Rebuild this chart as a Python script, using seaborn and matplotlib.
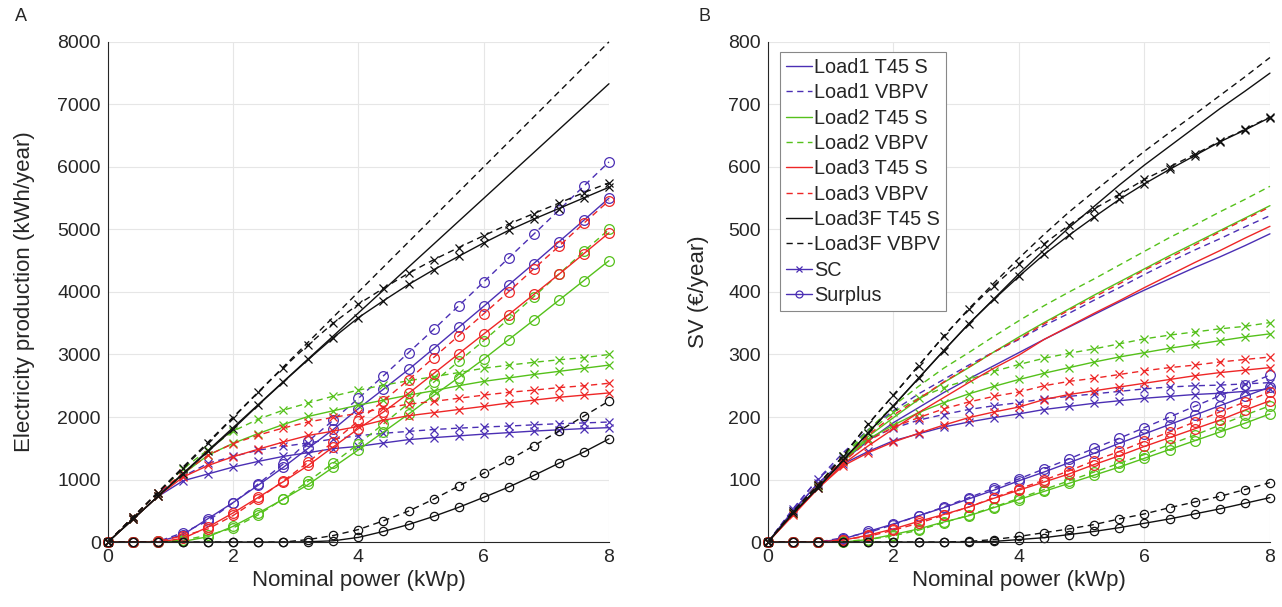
import numpy as np
import pandas as pd
import seaborn as sns
import matplotlib.pyplot as plt
from matplotlib.lines import Line2D

#%%
# x axis: nominal power (kWp)
nominal_power = [0.0, 0.4, 0.8, 1.2, 1.6, 2.0, 2.4, 2.8, 3.2, 3.6, 4.0,
                 4.4, 4.8, 5.2, 5.6, 6.0, 6.4, 6.8, 7.2, 7.6, 8.0]

#%%
# panel A - electricity production (kWh/year)
prod_t45 = [0, 366, 733, 1099, 1466, 1832, 2199, 2565, 2932, 3298, 3665,
            4031, 4398, 4764, 5131, 5497, 5864, 6230, 6597, 6963, 7330]
prod_vbpv = [0, 400, 800, 1200, 1600, 2000, 2400, 2800, 3200, 3600, 4000,
             4400, 4800, 5200, 5600, 6000, 6400, 6800, 7200, 7600, 8000]

sc_l1_t45 = [0, 366, 730, 980, 1090, 1200, 1290, 1370, 1430, 1495, 1530,
             1585, 1638, 1670, 1698, 1726, 1750, 1775, 1795, 1815, 1830]
sc_l1_vbpv = [0, 400, 790, 1050, 1260, 1370, 1470, 1530, 1585, 1650, 1700,
              1740, 1770, 1800, 1822, 1840, 1855, 1875, 1893, 1905, 1920]
sc_l2_t45 = [0, 366, 733, 1090, 1390, 1580, 1735, 1880, 2010, 2100, 2190,
             2270, 2350, 2420, 2500, 2570, 2625, 2680, 2730, 2780, 2830]
sc_l2_vbpv = [0, 400, 790, 1170, 1480, 1775, 1965, 2110, 2225, 2335, 2430,
              2510, 2580, 2645, 2710, 2780, 2830, 2875, 2915, 2950, 3000]
sc_l3_t45 = [0, 366, 733, 1040, 1225, 1365, 1485, 1600, 1705, 1775, 1850,
             1950, 2020, 2070, 2120, 2170, 2225, 2270, 2315, 2350, 2385]
sc_l3_vbpv = [0, 400, 790, 1100, 1390, 1575, 1710, 1825, 1920, 1995, 2060,
              2140, 2205, 2250, 2300, 2350, 2395, 2430, 2470, 2500, 2540]
sc_l3f_t45 = [0, 366, 733, 1090, 1450, 1810, 2190, 2560, 2920, 3270, 3590,
              3860, 4120, 4355, 4570, 4785, 4985, 5165, 5335, 5505, 5675]
sc_l3f_vbpv = [0, 400, 790, 1180, 1580, 1990, 2395, 2790, 3155, 3505, 3805,
               4060, 4300, 4515, 4710, 4900, 5085, 5255, 5420, 5590, 5745]

sur_l1_t45 = [0, 0, 3, 119, 376, 632, 909, 1195, 1502, 1803, 2135,
              2446, 2760, 3094, 3433, 3771, 4114, 4455, 4802, 5148, 5500]
sur_l1_vbpv = [0, 0, 10, 150, 340, 630, 930, 1250, 1615, 1950, 2300,
               2660, 3030, 3400, 3778, 4160, 4545, 4925, 5307, 5695, 6080]
sur_l2_t45 = [0, 0, 0, 9, 86, 252, 464, 685, 922, 1198, 1475,
              1761, 2048, 2344, 2631, 2927, 3239, 3550, 3867, 4183, 4500]
sur_l2_vbpv = [0, 0, 10, 30, 110, 225, 435, 690, 975, 1265, 1570,
               1890, 2220, 2555, 2890, 3220, 3570, 3925, 4285, 4650, 5000]
sur_l3_t45 = [0, 0, 0, 59, 241, 467, 714, 965, 1227, 1523, 1815,
              2081, 2378, 2694, 3011, 3327, 3639, 3960, 4282, 4613, 4945]
sur_l3_vbpv = [0, 0, 10, 100, 210, 425, 690, 975, 1280, 1605, 1940,
               2260, 2595, 2950, 3300, 3650, 4005, 4370, 4730, 5100, 5460]
sur_l3f_t45 = [0, 0, 0, 0, 0, 0, 0, 0, 5, 20, 75,
               170, 280, 410, 555, 715, 880, 1065, 1260, 1440, 1650]
sur_l3f_vbpv = [0, 0, 0, 0, 0, 0, 0, 0, 40, 105, 200,
                340, 495, 685, 895, 1100, 1310, 1540, 1775, 2015, 2255]

#%%
# panel B - saving value SV (EUR/year)
sv_l1_t45 = [0, 50, 94, 130, 162, 191, 215, 239, 261, 282, 303,
             324, 344, 364, 384, 403, 421, 439, 456, 474, 493]
sv_l1_vbpv = [0, 53, 101, 143, 180, 210, 237, 260, 283, 304, 324,
              346, 366, 387, 407, 428, 448, 467, 485, 504, 522]
sv_l2_t45 = [0, 45, 88, 130, 169, 199, 228, 255, 279, 304, 328,
             351, 373, 395, 416, 437, 458, 478, 498, 518, 538]
sv_l2_vbpv = [0, 47, 92, 138, 179, 218, 249, 278, 303, 329, 354,
              378, 400, 421, 443, 465, 487, 507, 528, 548, 569]
sv_l3_t45 = [0, 43, 86, 125, 154, 181, 207, 231, 255, 278, 299,
             324, 345, 366, 386, 407, 427, 447, 466, 486, 505]
sv_l3_vbpv = [0, 47, 92, 132, 171, 203, 229, 256, 280, 304, 325,
              349, 371, 392, 413, 435, 455, 475, 496, 516, 536]
sv_l3f_t45 = [0, 46, 87, 131, 175, 218, 262, 306, 349, 389, 429,
              467, 503, 537, 571, 603, 633, 663, 693, 721, 750]
sv_l3f_vbpv = [0, 49, 91, 138, 189, 235, 282, 329, 373, 414, 454,
               492, 528, 561, 593, 625, 655, 684, 714, 744, 775]

svsc_l1_t45 = [0, 50, 94, 125, 145, 162, 173, 184, 192, 199, 205,
               212, 217, 222, 226, 230, 233, 236, 238, 241, 245]
svsc_l1_vbpv = [0, 53, 101, 136, 165, 182, 195, 204, 212, 218, 223,
                229, 233, 237, 241, 245, 248, 250, 251, 253, 255]
svsc_l2_t45 = [0, 45, 88, 130, 165, 187, 207, 223, 237, 249, 260,
               270, 279, 288, 296, 303, 310, 316, 322, 328, 333]
svsc_l2_vbpv = [0, 47, 92, 137, 175, 208, 230, 247, 260, 273, 284,
                294, 302, 309, 317, 325, 331, 336, 341, 345, 351]
svsc_l3_t45 = [0, 43, 86, 122, 143, 160, 174, 187, 199, 208, 216,
               228, 236, 242, 248, 254, 260, 266, 271, 275, 279]
svsc_l3_vbpv = [0, 47, 92, 128, 162, 184, 199, 213, 224, 233, 240,
                250, 257, 262, 268, 274, 279, 283, 288, 292, 296]
svsc_l3f_t45 = [0, 46, 87, 131, 175, 218, 262, 306, 349, 388, 425,
                460, 491, 520, 548, 573, 596, 618, 640, 659, 679]
svsc_l3f_vbpv = [0, 49, 91, 138, 189, 235, 282, 329, 372, 410, 445,
                 477, 507, 533, 556, 580, 600, 620, 641, 660, 680]

svsur_l1_t45 = [0, 0, 0, 5, 17, 29, 42, 55, 69, 83, 98,
                112, 127, 142, 158, 173, 188, 203, 218, 233, 248]
svsur_l1_vbpv = [0, 0, 0, 7, 15, 28, 42, 56, 71, 86, 101,
                 117, 133, 150, 166, 183, 200, 217, 234, 251, 267]
svsur_l2_t45 = [0, 0, 0, 0, 4, 12, 21, 32, 42, 55, 68,
                81, 94, 107, 120, 134, 148, 162, 176, 190, 205]
svsur_l2_vbpv = [0, 0, 0, 1, 4, 10, 19, 31, 43, 56, 70,
                 84, 98, 112, 126, 140, 156, 171, 187, 203, 218]
svsur_l3_t45 = [0, 0, 0, 3, 11, 21, 33, 44, 56, 70, 83,
                96, 109, 124, 138, 153, 167, 181, 195, 211, 226]
svsur_l3_vbpv = [0, 0, 0, 4, 9, 19, 30, 43, 56, 71, 85,
                 99, 114, 130, 145, 161, 176, 192, 208, 224, 240]
svsur_l3f_t45 = [0, 0, 0, 0, 0, 0, 0, 0, 0, 1, 4,
                 7, 12, 17, 23, 30, 37, 45, 53, 62, 71]
svsur_l3f_vbpv = [0, 0, 0, 0, 0, 0, 0, 0, 1, 4, 9,
                  15, 21, 28, 37, 45, 55, 64, 73, 84, 95]

loads = ['Load1', 'Load2', 'Load3', 'Load3F']
configs = ['T45 S', 'VBPV']

#%%
# group the arrays per (load, config); production in A is the same for every
# load, so only the Load3F (black) copy is drawn there
panel_a = {
    ('Load1', 'T45 S'): (None, sc_l1_t45, sur_l1_t45),
    ('Load1', 'VBPV'): (None, sc_l1_vbpv, sur_l1_vbpv),
    ('Load2', 'T45 S'): (None, sc_l2_t45, sur_l2_t45),
    ('Load2', 'VBPV'): (None, sc_l2_vbpv, sur_l2_vbpv),
    ('Load3', 'T45 S'): (None, sc_l3_t45, sur_l3_t45),
    ('Load3', 'VBPV'): (None, sc_l3_vbpv, sur_l3_vbpv),
    ('Load3F', 'T45 S'): (prod_t45, sc_l3f_t45, sur_l3f_t45),
    ('Load3F', 'VBPV'): (prod_vbpv, sc_l3f_vbpv, sur_l3f_vbpv),
}
panel_b = {
    ('Load1', 'T45 S'): (sv_l1_t45, svsc_l1_t45, svsur_l1_t45),
    ('Load1', 'VBPV'): (sv_l1_vbpv, svsc_l1_vbpv, svsur_l1_vbpv),
    ('Load2', 'T45 S'): (sv_l2_t45, svsc_l2_t45, svsur_l2_t45),
    ('Load2', 'VBPV'): (sv_l2_vbpv, svsc_l2_vbpv, svsur_l2_vbpv),
    ('Load3', 'T45 S'): (sv_l3_t45, svsc_l3_t45, svsur_l3_t45),
    ('Load3', 'VBPV'): (sv_l3_vbpv, svsc_l3_vbpv, svsur_l3_vbpv),
    ('Load3F', 'T45 S'): (sv_l3f_t45, svsc_l3f_t45, svsur_l3f_t45),
    ('Load3F', 'VBPV'): (sv_l3f_vbpv, svsc_l3f_vbpv, svsur_l3f_vbpv),
}

colors = {'Load1': '#4b2fb4', 'Load2': '#55c11b', 'Load3': '#ee2626', 'Load3F': '#111111'}
styles = {'T45 S': '-', 'VBPV': '--'}

#%%
sns.set_theme(style='white')
plt.rcParams['font.family'] = ['Liberation Sans', 'DejaVu Sans']
plt.rcParams['lines.dashed_pattern'] = [4.5, 3.2]
txt = '#262626'


def draw(ax, y, color, ls, marker=None, ms=6):
    sns.lineplot(x=nominal_power, y=y, ax=ax, color=color, linestyle=ls,
                 marker=marker, markersize=ms, markerfacecolor='none',
                 markeredgecolor=color, markeredgewidth=0.9, linewidth=1.0,
                 clip_on=False, errorbar=None, sort=False)


fig = plt.figure(figsize=(12.82, 6.07), dpi=100)
ax_a = fig.add_axes([0.0842, 0.107, 0.3908, 0.824])
ax_b = fig.add_axes([0.599, 0.107, 0.3916, 0.824])

for ax, data in [(ax_a, panel_a), (ax_b, panel_b)]:
    for load in loads:
        c = colors[load]
        ms_o = 6 if load == 'Load3F' else 7
        for cfg in configs:
            total, sc, sur = data[(load, cfg)]
            if total is not None:
                draw(ax, total, c, styles[cfg])
            draw(ax, sc, c, styles[cfg], marker='x', ms=5.5)
            draw(ax, sur, c, styles[cfg], marker='o', ms=ms_o)

ax_a.set_ylim(0, 8000)
ax_a.set_yticks(np.arange(0, 8001, 1000))
ax_a.set_ylabel('Electricity production (kWh/year)', fontsize=16, color=txt, labelpad=16)
ax_b.set_ylim(0, 800)
ax_b.set_yticks(np.arange(0, 801, 100))
ax_b.set_ylabel('SV (€/year)', fontsize=16, color=txt, labelpad=14)

for ax in (ax_a, ax_b):
    ax.set_xlim(0, 8)
    ax.set_xticks([0, 2, 4, 6, 8])
    ax.set_xlabel('Nominal power (kWp)', fontsize=16, color=txt, labelpad=3)
    ax.grid(True, color='#e6e6e6', linewidth=0.8)
    ax.set_axisbelow(True)
    for s in ['top', 'right']:
        ax.spines[s].set_visible(False)
    for s in ['left', 'bottom']:
        ax.spines[s].set_color('#262626')
        ax.spines[s].set_linewidth(0.8)
    ax.tick_params(direction='in', length=4, width=0.8, labelsize=14,
                   colors=txt, pad=5)

# legend
handles = []
for load in loads:
    for cfg in configs:
        handles.append(Line2D([], [], color=colors[load], linestyle=styles[cfg],
                              lw=1.0, label=load + ' ' + cfg))
handles.append(Line2D([], [], color=colors['Load1'], lw=1.0, marker='x', ms=4,
                      mew=0.9, label='SC'))
handles.append(Line2D([], [], color=colors['Load1'], lw=1.0, marker='o', ms=5,
                      mfc='none', mew=0.9, label='Surplus'))
leg = ax_b.legend(handles=handles, loc='upper left', bbox_to_anchor=(0.024, 0.98),
                  borderaxespad=0, fontsize=14.3, frameon=True, fancybox=False,
                  edgecolor='#888888', framealpha=1, handlelength=1.3,
                  handletextpad=0.1, labelspacing=0.32, borderpad=0.3)
leg.get_frame().set_linewidth(0.8)
for t in leg.get_texts():
    t.set_color(txt)

fig.text(0.012, 0.972, 'A', fontsize=13, color=txt, va='center')
fig.text(0.545, 0.972, 'B', fontsize=13, color=txt, va='center')

plt.savefig('out.png', dpi=100)
